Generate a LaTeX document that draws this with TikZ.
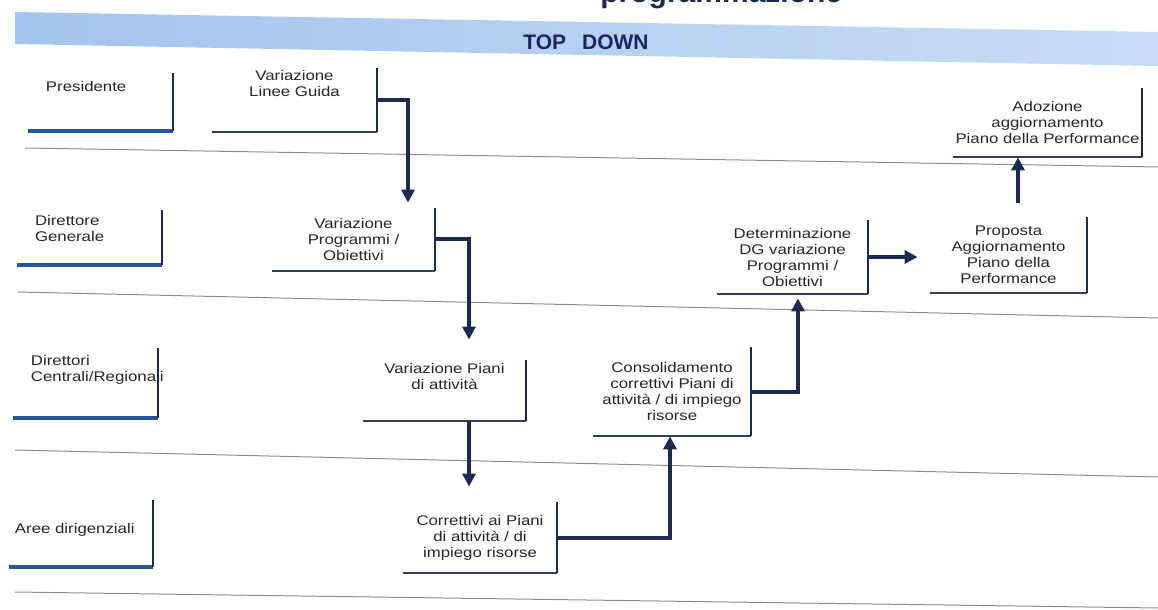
\documentclass[tikz,border=0pt]{standalone}
\usepackage{fontspec}
\setmainfont[FakeStretch=1.2]{Liberation Sans}
\newfontfamily\fontbanda{Liberation Sans}
\usetikzlibrary{arrows.meta}
\definecolor{blunotte}{RGB}{27,42,78}
\definecolor{bluriga}{RGB}{36,86,150}
\definecolor{grigioblu}{RGB}{52,62,88}
\definecolor{bandacielo}{RGB}{163,196,236}
\definecolor{bandachiara}{RGB}{200,221,245}
\definecolor{grigiolinea}{RGB}{135,141,152}
\newcommand{\cornice}[2]{\draw[#2] (#1.south west) -- (#1.south east); \draw[lato] (#1.south east) -- (#1.north east);}
\tikzstyle{ruolo} = [rectangle, inner xsep=9pt, inner ysep=1pt, align=left, font=\fontsize{7}{8}\selectfont, text=black!85]
\tikzstyle{fase} = [rectangle, inner xsep=1pt, inner ysep=1pt, align=center, font=\fontsize{7}{8}\selectfont, text=black!85]
\tikzstyle{lato} = [draw=blunotte, line width=1pt]
\tikzstyle{baseruolo} = [draw=bluriga, line width=2pt]
\tikzstyle{basefase} = [draw=grigioblu, line width=1pt]
\tikzstyle{freccia} = [draw=blunotte, line width=2pt, -{Triangle[width=6.5pt,length=6.5pt]}]
\tikzstyle{corsia} = [draw=grigiolinea, line width=0.5pt]
\tikzstyle{titolo} = [font=\fontbanda\bfseries\fontsize{15}{18}\selectfont, text=blunotte, inner sep=0pt]
\tikzstyle{banda} = [font=\fontbanda\bfseries\fontsize{10.5}{12}\selectfont, text=blunotte!90!blue, inner sep=0pt]

\begin{document}
\begin{tikzpicture}[x=0.5pt, y=-0.5pt]
		\useasboundingbox (0,0) rectangle (1158,610);
		\clip (0,0) rectangle (1158,610);
		\node[titolo, anchor=base west] (titolo) at (600,3) {programmazione};
		\shade[left color=bandacielo, right color=bandachiara] (15,12) -- (1158,32) -- (1158,66) -- (15,44) -- cycle;
		\node[banda] (topdown) at (586,42.5) {TOP\hspace{8pt}DOWN};
		\draw[corsia] (25,148) -- (1158,167);
		\draw[corsia] (18,292) -- (1158,318);
		\draw[corsia] (15,450) -- (1158,477);
		\draw[corsia] (15,592) -- (1158,608);

		\node[ruolo, text width=54.5pt, minimum height=29pt, text depth=16pt] (pres) at (100.5,102) {Presidente};
		\node[ruolo, text width=54.5pt, minimum height=27.5pt, text depth=17pt] (dg) at (89.5,237.5) {Direttore\\Generale};
		\node[ruolo, text width=54.5pt, minimum height=35pt, text depth=22.5pt] (dcr) at (85.5,383) {Direttori\\Centrali/Regionali};
		\node[ruolo, inner xsep=3pt, text width=66pt, minimum height=33.5pt, text depth=5.5pt] (aree) at (81,533.5) {Aree dirigenziali};

		\node[fase, minimum width=82.5pt, minimum height=30pt, text depth=17pt] (lg) at (294.5,100) {Variazione\\Linee Guida};
		\node[fase, minimum width=81.5pt, minimum height=31.5pt] (prog) at (353.5,239.5) {Variazione\\Programmi /\\Obiettivi};
		\node[fase, minimum width=81.5pt, minimum height=30.5pt, text depth=14.5pt] (piani) at (444.5,390.5) {Variazione Piani\\di attività};
		\node[fase, minimum width=77pt, minimum height=35.5pt] (corr) at (480,537.5) {Correttivi ai Piani\\di attività / di\\impiego risorse};
		\node[fase, minimum width=79pt, minimum height=44.5pt] (cons) at (672,391.5) {Consolidamento\\correttivi Piani di\\attività / di impiego\\risorse};
		\node[fase, minimum width=75.5pt, minimum height=37pt] (det) at (792.5,257) {Determinazione\\DG variazione\\Programmi /\\Obiettivi};
		\node[fase, minimum width=78.5pt, minimum height=38pt] (prop) at (1008.5,255) {Proposta\\Aggiornamento\\Piano della\\Performance};
		\node[fase, minimum width=94.5pt, minimum height=34.5pt] (ado) at (1047.5,122.5) {Adozione\\aggiornamento\\Piano della Performance};

		\foreach \n in {pres,dg,dcr,aree} {\cornice{\n}{baseruolo}}
		\foreach \n in {lg,prog,piani,corr,cons,det,prop,ado} {\cornice{\n}{basefase}}

		\draw[freccia] (lg.east) -| ([xshift=27.25pt,yshift=2.5pt]prog.north);
		\draw[freccia] (prog.east) -| ([xshift=12.25pt,yshift=10pt]piani.north);
		\draw[freccia] ([xshift=12.25pt]piani.south) -- ([xshift=-5.5pt,yshift=7.5pt]corr.north);
		\draw[freccia] (corr.east) -| ([xshift=-1pt]cons.south);
		\draw[freccia] (cons.east) -| ([xshift=2.75pt,yshift=-2pt]det.south);
		\draw[freccia] (det.east) -- ([xshift=-6pt]det.east -| prop.west);
		\draw[freccia] ([xshift=4.75pt,yshift=7pt]prop.north) -- ([xshift=-14.75pt]ado.south);
	\end{tikzpicture}
\end{document}
